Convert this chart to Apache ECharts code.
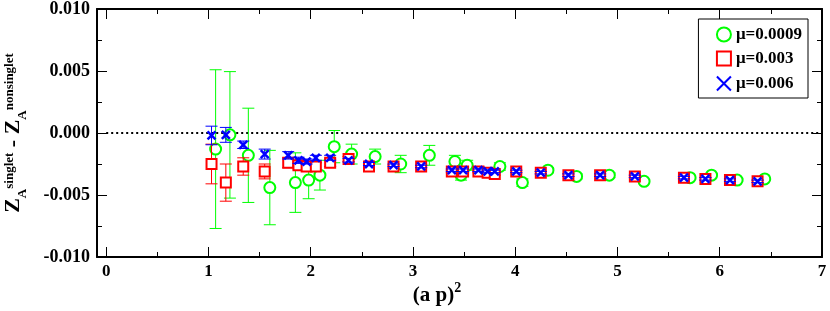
<!DOCTYPE html>
<html><head><meta charset="utf-8">
<script src="https://cdn.jsdelivr.net/npm/echarts@6/dist/echarts.min.js"></script>
<style>html,body{margin:0;padding:0;background:#fff}#c{width:830px;height:311px}</style>
</head><body><div id="c"></div>
<script>
// ---- data ----
const xMajorTicks = [0, 1, 2, 3, 4, 5, 6, 7];
const xMinorTicks = [0.5, 1.5, 2.5, 3.5, 4.5, 5.5, 6.5];
const seriesNames = ['μ=0.0009', 'μ=0.003', 'μ=0.006'];

const greenX = [1.07,1.21,1.39,1.60,1.85,1.98,2.09,2.23,2.40,2.63,2.88,3.16,3.41,3.47,3.53,3.85,4.07,4.32,4.60,4.92,5.26,5.71,5.92,6.17,6.44];
const greenY = [-0.0013,-0.00015,-0.0018,-0.0044,-0.0040,-0.0038,-0.0034,-0.0011,-0.0017,-0.0019,-0.0025,-0.0018,-0.0023,-0.0034,-0.0026,-0.0027,-0.0040,-0.0030,-0.0035,-0.0034,-0.0039,-0.0036,-0.0034,-0.0038,-0.0037];
const greenErr = [0.0064,0.0051,0.0038,0.0030,0.0024,0.0015,0.0012,0.0013,0.0008,0.0006,0.0007,0.0008,0.0005,0.0004,0.0004,0.0003,0.0003,0.0002,0.0002,0.0002,0.0001,0.0001,0.0001,0.0001,0.0001];

const redX = [1.03,1.17,1.34,1.55,1.78,1.88,1.96,2.05,2.19,2.37,2.57,2.81,3.08,3.38,3.49,3.64,3.73,3.80,4.01,4.25,4.52,4.83,5.17,5.65,5.86,6.10,6.37];
const redY = [-0.0025,-0.0040,-0.0027,-0.0031,-0.0024,-0.0026,-0.0027,-0.0027,-0.0024,-0.0021,-0.0027,-0.0027,-0.0027,-0.0031,-0.0031,-0.0031,-0.0032,-0.0033,-0.0031,-0.0032,-0.0034,-0.0034,-0.0035,-0.0036,-0.0037,-0.0038,-0.0039];
const redErr = [0.0016,0.0015,0.0007,0.0006,0.0004,0.0003,0.0003,0.0003,0.0003,0.0002,0.00015,0.00012,0.0001,0.0001,0.0001,0.0001,0.0001,0.0001,0.0001,0.0001,0.0001,0.0001,0.0001,0.0001,0.0001,0.0001,0.0001];

const blueX = [1.03,1.17,1.34,1.55,1.78,1.88,1.96,2.05,2.19,2.37,2.57,2.81,3.08,3.38,3.49,3.64,3.73,3.80,4.01,4.25,4.52,4.83,5.17,5.65,5.86,6.10,6.37];
const blueY = [-0.0002,-0.00015,-0.00095,-0.0017,-0.0018,-0.0022,-0.0023,-0.0020,-0.0020,-0.0022,-0.0025,-0.0026,-0.0027,-0.0030,-0.0030,-0.0030,-0.0031,-0.0031,-0.0031,-0.0032,-0.0034,-0.0034,-0.0035,-0.0036,-0.0037,-0.0038,-0.0039];
const blueErr = [0.00075,0.0006,0.0003,0.0004,0.0003,0.00025,0.0002,0.0002,0.0002,0.00015,0.00012,0.0001,0.0001,0.0001,0.0001,0.0001,0.0001,0.0001,0.0001,0.0001,0.0001,0.0001,0.0001,0.0001,0.0001,0.0001,0.0001];

const zeroLineX = [0, 7];
const zeroLineY = [0, 0];

// ---- chart ----
const SERIF = "'Liberation Serif','Times New Roman',serif";
const chart = echarts.init(document.getElementById('c'), null, {renderer: 'canvas'});

function errSeries(xs, ys, es, color, capHalf) {
  return {
    type: 'custom', silent: true, xAxisIndex: 0, yAxisIndex: 0,
    data: xs.map((x, i) => [x, ys[i] - es[i], ys[i] + es[i]]),
    encode: {x: 0, y: [1, 2]},
    renderItem(params, api) {
      const lo = api.coord([api.value(0), api.value(1)]);
      const hi = api.coord([api.value(0), api.value(2)]);
      const st = {stroke: color, lineWidth: 1};
      return {type: 'group', children: [
        {type: 'line', shape: {x1: lo[0], y1: lo[1], x2: hi[0], y2: hi[1]}, style: st},
        {type: 'line', shape: {x1: lo[0] - capHalf, y1: lo[1], x2: lo[0] + capHalf, y2: lo[1]}, style: st},
        {type: 'line', shape: {x1: hi[0] - capHalf, y1: hi[1], x2: hi[0] + capHalf, y2: hi[1]}, style: st}
      ]};
    }
  };
}

const xMin = -0.09, xMax = 7, yMin = -0.01, yMax = 0.01;
function axLine(show) { return {show: show, onZero: false, lineStyle: {color: '#000', width: 2}}; }
function xAx(pos, ticks, len, labels, line) {
  return {type: 'value', position: pos, min: xMin, max: xMax,
    axisLine: axLine(line),
    splitLine: {show: false},
    axisTick: {show: true, inside: true, length: len, customValues: ticks, lineStyle: {color: '#000', width: 1}},
    axisLabel: labels ? {show: true, customValues: ticks, margin: 6, color: '#000',
      fontFamily: SERIF, fontWeight: 'bold', fontSize: 17} : {show: false}};
}
function yAx(pos, labels) {
  return {type: 'value', position: pos, min: yMin, max: yMax, interval: 0.005,
    axisLine: axLine(true), splitLine: {show: false},
    axisTick: {show: true, inside: true, length: 10, lineStyle: {color: '#000', width: 1}},
    minorTick: {show: true, splitNumber: 2, length: 5, lineStyle: {color: '#000', width: 1}},
    minorSplitLine: {show: false},
    axisLabel: labels ? {show: true, margin: 7, color: '#000', fontFamily: SERIF, fontWeight: 'bold',
      fontSize: 18, formatter: v => v.toFixed(3)} : {show: false}};
}

// text measurement for axis titles
const mctx = document.createElement('canvas').getContext('2d');
function tw(font, t) { mctx.font = font; return mctx.measureText(t).width; }
const FZ = "bold 22px 'Liberation Serif'";
const FS = "bold 13px 'Liberation Serif'";
const yParts = [
  {t: 'Z', f: FZ, dy: 0}, {t: 'A', f: FS, dy: 9}, {t: 'singlet', f: FS, dy: -4},
  {t: ' - ', f: FZ, dy: 0},
  {t: 'Z', f: FZ, dy: 0}, {t: 'A', f: FS, dy: 9}, {t: 'nonsinglet', f: FS, dy: -4}
];
let acc = 0;
const yChildren = yParts.map(p => {
  const el = {type: 'text', x: acc, y: p.dy, style: {text: p.t, font: p.f, fill: '#000', align: 'left', verticalAlign: 'middle'}};
  acc += tw(p.f, p.t);
  return el;
});
const yTotal = acc;

const FX = "bold 21px 'Liberation Serif'";
const FX2 = "bold 14px 'Liberation Serif'";
const xw1 = tw(FX, '(a p)'), xw2 = tw(FX2, '2');
const xStart = 437 - (xw1 + xw2) / 2;

chart.setOption({
  animation: false,
  backgroundColor: '#fff',
  grid: {left: 97, right: 8, top: 8, bottom: 54, containLabel: false},
  xAxis: [
    xAx('bottom', xMajorTicks, 10, true, true),
    xAx('bottom', xMinorTicks, 5, false, false),
    xAx('top', xMajorTicks, 10, false, true),
    xAx('top', xMinorTicks, 5, false, false)
  ],
  yAxis: [yAx('left', true), yAx('right', false)],
  legend: {
    orient: 'vertical', right: 22, top: 19,
    data: seriesNames,
    backgroundColor: '#fff', borderColor: '#000', borderWidth: 1, borderRadius: 0,
    padding: [7, 6, 5, 16], itemGap: 7, itemWidth: 14, itemHeight: 14,
    textStyle: {fontFamily: SERIF, fontWeight: 'bold', fontSize: 17, color: '#000'}
  },
  graphic: [
    {type: 'group', x: 13.5, y: 133 + yTotal / 2, rotation: Math.PI / 2, children: yChildren},
    {type: 'text', x: xStart, y: 296, style: {text: '(a p)', font: FX, fill: '#000', align: 'left', verticalAlign: 'middle'}},
    {type: 'text', x: xStart + xw1, y: 288, style: {text: '2', font: FX2, fill: '#000', align: 'left', verticalAlign: 'middle'}}
  ],
  series: [
    {type: 'line', data: zeroLineX.map((x, i) => [x, zeroLineY[i]]), symbol: 'none', silent: true,
      lineStyle: {color: '#000', width: 2, type: [2, 3]}, z: 1},
    Object.assign(errSeries(greenX, greenY, greenErr, '#00ff00', 6), {z: 2}),
    {name: seriesNames[0], type: 'scatter', z: 3, symbol: 'circle', symbolSize: 11,
      data: greenX.map((x, i) => [x, greenY[i]]),
      itemStyle: {color: '#fff', borderColor: '#00ff00', borderWidth: 2, opacity: 1}},
    Object.assign(errSeries(redX, redY, redErr, '#ff0000', 6), {z: 4}),
    {name: seriesNames[1], type: 'scatter', z: 5, symbol: 'rect', symbolSize: 10,
      data: redX.map((x, i) => [x, redY[i]]),
      itemStyle: {color: '#fff', borderColor: '#ff0000', borderWidth: 2, opacity: 1}},
    Object.assign(errSeries(blueX, blueY, blueErr, '#0000ff', 6), {z: 6}),
    {name: seriesNames[2], type: 'scatter', z: 7, symbol: 'path://M0,0L10,10M10,0L0,10', symbolSize: 8,
      data: blueX.map((x, i) => [x, blueY[i]]),
      itemStyle: {color: 'none', borderColor: '#0000ff', borderWidth: 2.5, opacity: 1}}
  ]
});
</script></body></html>
